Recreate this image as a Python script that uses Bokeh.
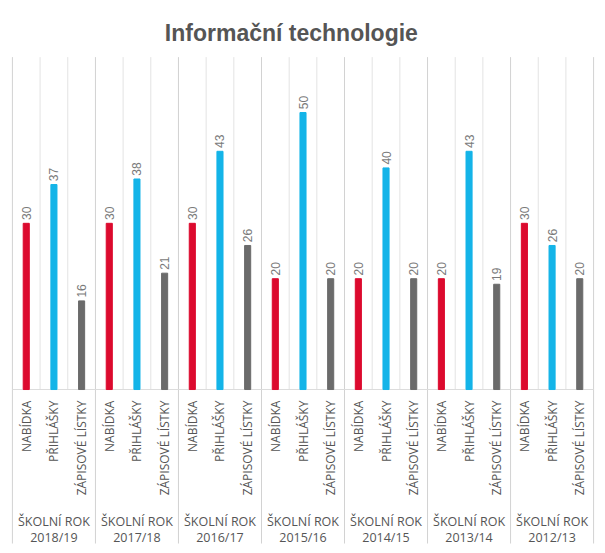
import math
from bokeh.plotting import figure
from bokeh.models import FactorRange, Range1d, ColumnDataSource
from bokeh.core.properties import value
from bokeh.embed import file_html
from bokeh.resources import INLINE

title = "Informační technologie"
years = ["2018/19", "2017/18", "2016/17", "2015/16", "2014/15", "2013/14", "2012/13"]
series = ["NABÍDKA", "PŘIHLÁŠKY", "ZÁPISOVÉ LÍSTKY"]
nabidka = [30, 30, 30, 20, 20, 20, 30]
prihlasky = [37, 38, 43, 50, 40, 43, 26]
zapisove = [16, 21, 26, 20, 20, 19, 20]
group_prefix = "ŠKOLNÍ ROK"
colors = ["#DC0A2E", "#14B4E8", "#6B6B6B"]

values_by_series = [nabidka, prihlasky, zapisove]
factors = [(y, s) for y in years for s in series]

p = figure(width=605, height=553, output_backend="svg", toolbar_location=None,
           x_range=FactorRange(*factors, range_padding=0.041, group_padding=0,
                               factor_padding=0),
           y_range=Range1d(-29.6, 70.22), min_border=0)
p.axis.visible = False
p.grid.visible = False
p.outline_line_color = None
p.background_fill_color = "white"

# light gridlines between sub-categories
sub_x = [(y, s, -0.5) for y in years for s in series[1:]]
p.segment(x0=sub_x, x1=sub_x, y0=0, y1=60, line_color="#e3e3e3", line_width=1)
# group separators
grp_x = [(y, series[0], -0.5) for y in years] + [(years[-1], series[-1], 0.5)]
p.segment(x0=grp_x, x1=grp_x, y0=-27.8, y1=60, line_color="#d2d2d2", line_width=1)
# baseline
p.segment(x0=[(years[0], series[0], -0.5)], x1=[(years[-1], series[-1], 0.5)],
          y0=0, y1=0, line_color="#dcdcdc", line_width=1)

for s, vals, c in zip(series, values_by_series, colors):
    src = ColumnDataSource(dict(x=[(y, s) for y in years], top=vals,
                                lab=[str(v) for v in vals],
                                ly=[v + 0.6 for v in vals]))
    p.vbar(x="x", top="top", bottom=0, width=0.22, source=src, color=c)
    p.text(x="x", y="ly", text="lab", source=src, angle=math.pi / 2,
           text_align="left", text_baseline="middle", text_font_size="12px",
           text_font=value("Liberation Sans"), text_color="#7a7a7a")

# category labels
p.text(x=factors, y=[-2.0] * len(factors), text=[f[1] for f in factors],
       angle=math.pi / 2, text_align="right", text_baseline="middle",
       text_font_size="12px", text_font=value("Open Sans"), text_color="#555555")

# group labels
p.text(x=[(y, series[1]) for y in years], y=[-25.3] * len(years),
       text=[f"{group_prefix}\n{y}" for y in years],
       text_align="center", text_baseline="middle", text_font_size="12.5px",
       text_line_height=0.95, text_font=value("Open Sans"), text_color="#555555")

# title
p.text(x=[(years[3], series[1], -0.42)], y=[64.4], text=[title],
       text_align="center", text_baseline="middle", text_font_size="23px",
       text_font_style="bold", text_font=value("Liberation Sans"),
       text_color="#555555")

open("out.html", "w").write(file_html(p, INLINE))
